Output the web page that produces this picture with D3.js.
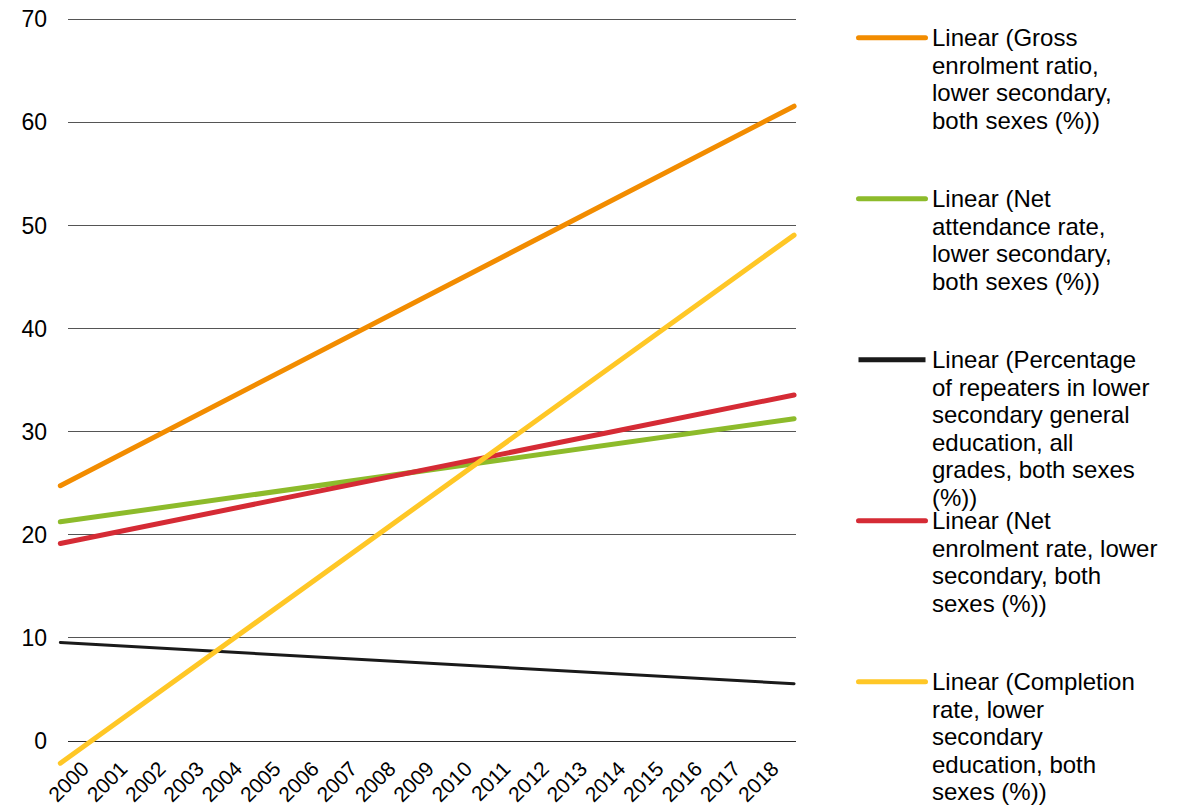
<!DOCTYPE html>
<html>
<head>
<meta charset="utf-8">
<script src="https://cdn.jsdelivr.net/npm/d3@7/dist/d3.min.js"></script>
<style>
  html, body { margin: 0; padding: 0; background: #fff; }
  svg { display: block; font-family: "Liberation Sans", Arial, sans-serif; }
</style>
</head>
<body>
<svg id="chart" width="1184" height="807"></svg>
<script>
// Category labels on the x axis
const years = d3.range(2000, 2019);

// Y axis tick values
const yTicks = [0, 10, 20, 30, 40, 50, 60, 70];

// Linear trendlines: value at the start and end of the fitted span (years)
const trendSpan = [1999.3, 2018.45];

const seriesNames = [
  ["Linear (Gross", "enrolment ratio,", "lower secondary,", "both sexes (%))"],
  ["Linear (Net", "attendance rate,", "lower secondary,", "both sexes (%))"],
  ["Linear (Percentage", "of repeaters in lower", "secondary general", "education, all", "grades, both sexes", "(%))"],
  ["Linear (Net", "enrolment rate, lower", "secondary, both", "sexes (%))"],
  ["Linear (Completion", "rate, lower", "secondary", "education, both", "sexes (%))"]
];
const trendFrom = [24.7, 21.2, 9.5, 19.1, -2.2];
const trendTo   = [61.5, 31.2, 5.5, 33.5, 49.0];

const colors = ["#F28C00", "#8DBB2B", "#1A1A1A", "#D52B35", "#FFC726"];
const widths = [5, 5, 3, 5, 5];

const svg = d3.select("#chart");

const plot = { left: 68, right: 796, top: 18.5, bottom: 740.5 };

const x = d3.scaleLinear()
  .domain([years[0] - 0.5, years[years.length - 1] + 0.5])
  .range([plot.left, plot.right]);

const y = d3.scaleLinear()
  .domain([0, 70])
  .range([plot.bottom, plot.top]);

// Horizontal gridlines
svg.append("g")
  .selectAll("line")
  .data(yTicks)
  .join("line")
  .attr("x1", plot.left)
  .attr("x2", plot.right)
  .attr("y1", d => Math.round(y(d)) + 0.5)
  .attr("y2", d => Math.round(y(d)) + 0.5)
  .attr("stroke", d => d === 0 ? "#2b2b2b" : "#555")
  .attr("stroke-width", 1);

// Y tick labels
svg.append("g")
  .selectAll("text")
  .data(yTicks)
  .join("text")
  .attr("x", 47)
  .attr("y", d => y(d))
  .attr("dy", "0.38em")
  .attr("text-anchor", "end")
  .attr("font-size", 23)
  .attr("fill", "#000")
  .text(d => d);

// X tick labels, rotated
svg.append("g")
  .selectAll("text")
  .data(years)
  .join("text")
  .attr("transform", d => `translate(${x(d) - 2},765) rotate(-45)`)
  .attr("dy", "0.35em")
  .attr("text-anchor", "end")
  .attr("font-size", 21)
  .attr("fill", "#000")
  .text(d => d);

// Trendlines
const line = d3.line().x(d => x(d[0])).y(d => y(d[1]));
const order = [2, 1, 3, 0, 4];
svg.append("g")
  .selectAll("path")
  .data(order)
  .join("path")
  .attr("d", i => line([[trendSpan[0], trendFrom[i]], [trendSpan[1], trendTo[i]]]))
  .attr("fill", "none")
  .attr("stroke", i => colors[i])
  .attr("stroke-width", i => widths[i])
  .attr("stroke-linecap", "round");

// Legend
const legendTop = 37.7;
const legendStep = 161;
const lineH = 27.5;
const legend = svg.append("g")
  .selectAll("g")
  .data(seriesNames)
  .join("g")
  .attr("transform", (d, i) => `translate(0,${legendTop + i * legendStep})`);

legend.append("line")
  .attr("x1", 858.5)
  .attr("x2", 925.5)
  .attr("y1", 0)
  .attr("y2", 0)
  .attr("stroke", (d, i) => colors[i])
  .attr("stroke-width", 5)
  .attr("stroke-linecap", (d, i) => i === 2 ? "butt" : "round");

legend.append("text")
  .attr("font-size", 24)
  .attr("fill", "#000")
  .selectAll("tspan")
  .data(d => d)
  .join("tspan")
  .attr("x", 932)
  .attr("y", (d, j) => j * lineH)
  .attr("dy", "0.35em")
  .text(d => d);
</script>
</body>
</html>
